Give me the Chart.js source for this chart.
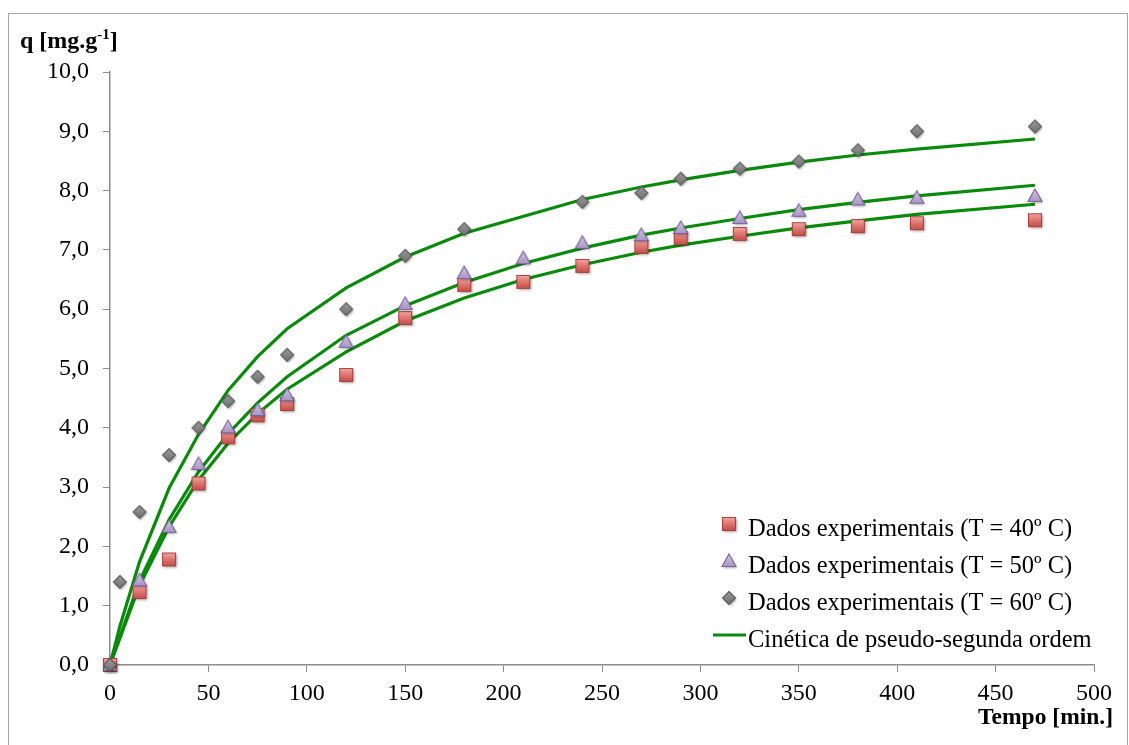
<!DOCTYPE html>
<html>
<head>
<meta charset="utf-8">
<script src="https://cdn.jsdelivr.net/npm/chart.js@4.4.0/dist/chart.umd.min.js"></script>
<style>
  html, body { margin: 0; padding: 0; background: #ffffff; }
  canvas { display: block; }
</style>
</head>
<body>
<canvas id="chart" width="1129" height="745"></canvas>
<script>
// Sampling times [min]
const times40 = [0, 15, 30, 45, 60, 75, 90, 120, 150, 180, 210, 240, 270, 290, 320, 350, 380, 410, 470];
const times50 = [0, 15, 30, 45, 60, 75, 90, 120, 150, 180, 210, 240, 270, 290, 320, 350, 380, 410, 470];
const times60 = [0, 5, 15, 30, 45, 60, 75, 90, 120, 150, 180, 240, 270, 290, 320, 350, 380, 410, 470];

// Experimental adsorbed amount q [mg/g]
const q40 = [0, 1.23, 1.78, 3.06, 3.84, 4.21, 4.40, 4.89, 5.85, 6.41, 6.46, 6.73, 7.05, 7.20, 7.27, 7.35, 7.40, 7.45, 7.50];
const q50 = [0, 1.43, 2.33, 3.39, 4.01, 4.30, 4.55, 5.45, 6.09, 6.61, 6.86, 7.12, 7.25, 7.37, 7.54, 7.66, 7.85, 7.88, 7.91];
const q60 = [0, 1.40, 2.58, 3.54, 4.00, 4.45, 4.86, 5.23, 6.00, 6.90, 7.35, 7.81, 7.96, 8.20, 8.37, 8.49, 8.68, 9.00, 9.08];

// Pseudo-second-order kinetic curves at the same times
const fit40 = [0, 1.34, 2.33, 3.12, 3.74, 4.24, 4.65, 5.28, 5.80, 6.19, 6.50, 6.75, 6.96, 7.08, 7.23, 7.37, 7.49, 7.60, 7.77];
const fit50 = [0, 1.42, 2.45, 3.26, 3.90, 4.42, 4.86, 5.56, 6.06, 6.45, 6.77, 7.03, 7.25, 7.37, 7.53, 7.68, 7.80, 7.91, 8.09];
const fit60 = [0, 0.65, 1.74, 2.98, 3.89, 4.63, 5.20, 5.67, 6.36, 6.88, 7.28, 7.85, 8.06, 8.18, 8.34, 8.48, 8.60, 8.70, 8.87];

const seriesLabels = [
  'Dados experimentais (T = 40º C)',
  'Dados experimentais (T = 50º C)',
  'Dados experimentais (T = 60º C)'
];
const fitLabel = 'Cinética de pseudo-segunda ordem';

const xTicks = { min: 0, max: 500, step: 50 };
const yTicks = { min: 0, max: 10, step: 1 };

const FONT = "'Liberation Serif', 'Times New Roman', serif";
const GREEN = '#0a8a0a';
const AXIS_GREY = '#8c8c8c';

function pairs(xs, ys) {
  return xs.map((x, i) => ({ x: x, y: ys[i] }));
}

// Marker sprites with a soft drop shadow
function makeMarker(kind) {
  const pad = 5, size = 14;
  const c = document.createElement('canvas');
  c.width = c.height = size + pad * 2;
  const g = c.getContext('2d');
  const cx = c.width / 2;
  g.beginPath();
  let grad;
  if (kind === 'square') {
    g.rect(cx - 6.5, cx - 6.5, 13, 13);
    grad = g.createLinearGradient(0, cx - 6.5, 0, cx + 6.5);
    grad.addColorStop(0, '#f1a6a3');
    grad.addColorStop(0.5, '#dc746f');
    grad.addColorStop(1, '#c24e4a');
  } else if (kind === 'triangle') {
    g.moveTo(cx, cx - 7);
    g.lineTo(cx + 7, cx + 5.5);
    g.lineTo(cx - 7, cx + 5.5);
    g.closePath();
    grad = g.createLinearGradient(0, cx - 7, 0, cx + 5.5);
    grad.addColorStop(0, '#d3c7e1');
    grad.addColorStop(1, '#a795c1');
  } else {
    g.moveTo(cx, cx - 6.5);
    g.lineTo(cx + 6.5, cx);
    g.lineTo(cx, cx + 6.5);
    g.lineTo(cx - 6.5, cx);
    g.closePath();
    grad = g.createLinearGradient(0, cx - 6.5, 0, cx + 6.5);
    grad.addColorStop(0, '#9a9a9a');
    grad.addColorStop(1, '#6f6f6f');
  }
  g.save();
  g.shadowColor = 'rgba(0,0,0,0.35)';
  g.shadowBlur = 2.5;
  g.shadowOffsetX = 1;
  g.shadowOffsetY = 1.5;
  g.fillStyle = grad;
  g.fill();
  g.restore();
  g.lineWidth = 1.1;
  g.strokeStyle = kind === 'square' ? '#a8403c' : (kind === 'triangle' ? '#7b61a0' : '#5c5c5c');
  g.stroke();
  return c;
}

const markerSquare = makeMarker('square');
const markerTriangle = makeMarker('triangle');
const markerDiamond = makeMarker('diamond');

function fitDataset(xs, ys) {
  return {
    type: 'line',
    label: fitLabel,
    data: pairs(xs, ys),
    borderColor: GREEN,
    borderWidth: 3.2,
    pointRadius: 0,
    pointHoverRadius: 0,
    tension: 0,
    fill: false,
    clip: false,
    order: 10
  };
}

function pointDataset(label, xs, ys, sprite, order) {
  return {
    type: 'scatter',
    label: label,
    data: pairs(xs, ys),
    pointStyle: sprite,
    pointRadius: 7,
    showLine: false,
    clip: false,
    order: order
  };
}

const datasets = [
  fitDataset(times40, fit40),
  fitDataset(times50, fit50),
  fitDataset(times60, fit60),
  pointDataset(seriesLabels[0], times40, q40, markerSquare, 3),
  pointDataset(seriesLabels[1], times50, q50, markerTriangle, 2),
  pointDataset(seriesLabels[2], times60, q60, markerDiamond, 1)
];

// Frame, axis titles and the in-plot legend
const decorations = {
  id: 'decorations',
  afterDraw(chart) {
    const ctx = chart.ctx;
    const area = chart.chartArea;
    ctx.save();

    // outer frame
    ctx.strokeStyle = '#a6a6a6';
    ctx.lineWidth = 1;
    ctx.strokeRect(8.5, 13.5, 1119, 760);

    // y-axis title: q [mg.g^-1]
    ctx.fillStyle = '#000';
    ctx.textBaseline = 'alphabetic';
    ctx.textAlign = 'left';
    let x = 20;
    const yb = 48;
    ctx.font = 'bold 24px ' + FONT;
    ctx.fillText('q [mg.g', x, yb);
    x += ctx.measureText('q [mg.g').width;
    ctx.font = 'bold 15px ' + FONT;
    ctx.fillText('-1', x, yb - 9);
    x += ctx.measureText('-1').width;
    ctx.font = 'bold 24px ' + FONT;
    ctx.fillText(']', x, yb);

    // x-axis title
    ctx.font = 'bold 23.5px ' + FONT;
    ctx.textAlign = 'right';
    ctx.fillText('Tempo [min.]', area.right + 19, 724);

    // legend
    const lx = area.right - 346;
    const markX = lx - 19;
    const rows = [area.bottom - 129, area.bottom - 92, area.bottom - 55, area.bottom - 18];
    ctx.font = '24.5px ' + FONT;
    ctx.textAlign = 'left';
    const pts = chart.data.datasets.filter(d => d.type === 'scatter');
    pts.forEach((d, i) => {
      const img = d.pointStyle;
      ctx.drawImage(img, markX - img.width / 2, rows[i] - 12 - img.height / 2);
      ctx.fillText(d.label, lx, rows[i]);
    });
    const fit = chart.data.datasets.find(d => d.type === 'line');
    ctx.strokeStyle = fit.borderColor;
    ctx.lineWidth = fit.borderWidth;
    ctx.beginPath();
    ctx.moveTo(lx - 35, rows[3] - 12);
    ctx.lineTo(lx - 2, rows[3] - 12);
    ctx.stroke();
    ctx.fillText(fit.label, lx, rows[3]);

    ctx.restore();
  }
};

new Chart(document.getElementById('chart'), {
  data: { datasets: datasets },
  options: {
    responsive: false,
    animation: false,
    layout: { padding: { left: 0, right: 35, top: 72, bottom: 0 } },
    plugins: {
      legend: { display: false },
      tooltip: { enabled: false }
    },
    scales: {
      x: {
        type: 'linear',
        min: xTicks.min,
        max: xTicks.max,
        afterFit(scale) { scale.height = 80; },
        ticks: {
          stepSize: xTicks.step,
          color: '#000',
          font: { family: FONT, size: 24 },
          padding: 7,
          maxRotation: 0
        },
        grid: { drawOnChartArea: false, drawTicks: true, tickLength: 7, color: AXIS_GREY },
        border: { color: AXIS_GREY, width: 1.5 }
      },
      y: {
        type: 'linear',
        min: yTicks.min,
        max: yTicks.max,
        afterFit(scale) { scale.width = 110; },
        ticks: {
          stepSize: yTicks.step,
          color: '#000',
          font: { family: FONT, size: 24 },
          padding: 14,
          callback: v => v.toFixed(1).replace('.', ',')
        },
        grid: { drawOnChartArea: false, drawTicks: true, tickLength: 7, color: AXIS_GREY },
        border: { color: AXIS_GREY, width: 1.5 }
      }
    }
  },
  plugins: [decorations]
});
</script>
</body>
</html>
